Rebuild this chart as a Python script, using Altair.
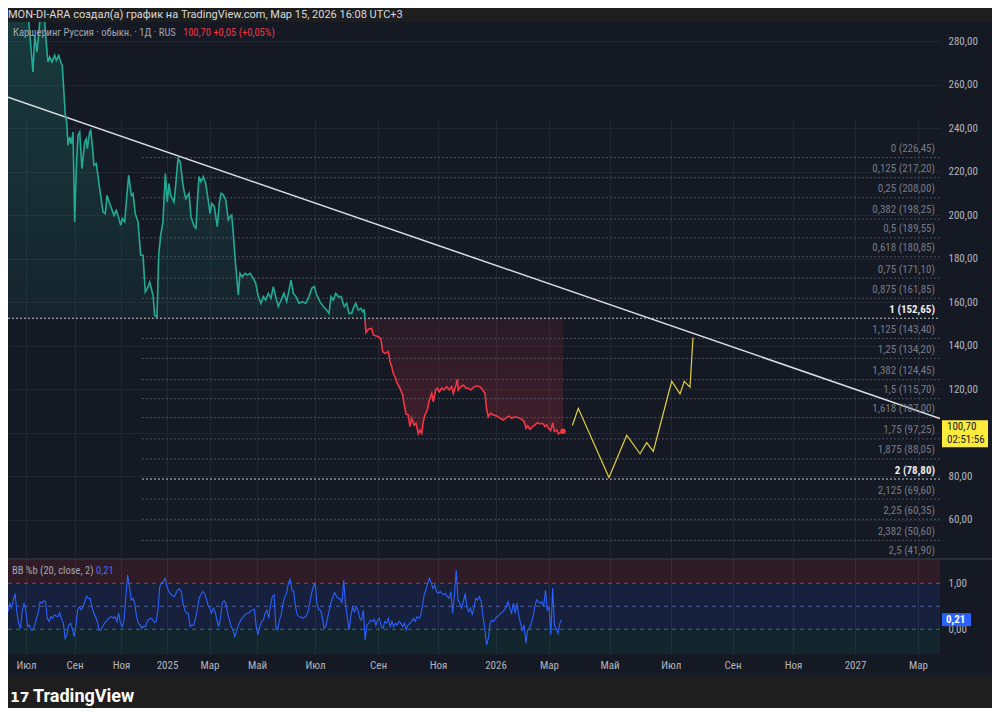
import altair as alt
import pandas as pd

# ---------------- data (x = bar position on the time axis) ----------------
price_t = [
    0, 8, 16, 20.7, 25.0, 26.7, 29.0, 31.7, 33.5, 36.7,
    39.3, 40, 41.7, 44, 46.7, 48.3, 50.7, 53.3, 54.3, 57.3,
    58.7, 60, 61.7, 63.3, 65, 66.7, 68.3, 70, 71.7, 74,
    76.7, 78.3, 79.3, 81.7, 82.7, 84.3, 86, 88.3, 91.7, 95,
    97.3, 99, 101.7, 106, 108.3, 111, 112.7, 114.3, 116.7, 118.3,
    120.7, 123.3, 125, 127.3, 130, 132.7, 135, 137.3, 139.3, 141.7,
    143.3, 145, 146.7, 149, 150.7, 152.7, 155, 157.3, 159.3, 161,
    162.7, 166, 167.7, 170, 172.3, 175, 177.7, 181, 183, 186.3,
    188, 189.7, 191, 193, 195.3, 197.7, 199.7, 202, 203.7, 206.3,
    209.3, 211.3, 213, 215.3, 217.7, 220.3, 222, 223.7, 225.3, 227,
    228.7, 230.3, 232, 234.3, 237, 239.3, 242, 245.3, 247.7, 250.3,
    253, 255.3, 257.7, 260.3, 263, 265.3, 267.7, 270.3, 273, 276,
    278.7, 281, 283, 285.3, 288, 291, 294.3, 297.7, 301, 303.7,
    306.3, 308.7, 312, 315.3, 318.7, 321, 323, 325.3, 327.7, 330.3,
    333, 336.3, 338.7, 341, 343.7, 345.3, 347.7, 350.3, 353, 354.7,
    356.3, 357,
    358, 360.3, 363.7, 365.3, 370.3, 372.7, 374.7, 377, 380.3, 382,
    383.7, 385.3, 387, 389.3, 392, 394.7, 396, 398, 400.3, 402,
    403.7, 406, 408, 410.3, 412, 413.7, 415.3, 417, 419.3, 421.3,
    423.7, 425.3, 427.7, 429.3, 431.3, 433.7, 436, 438.7, 441.3, 443.7,
    445.3, 448, 449.3, 450.3, 452.7, 455.3, 458, 460.3, 462.7, 465.3,
    468.7, 472, 474.7, 477, 478.7, 480.3, 482.7, 485.3, 488.7, 492,
    495.3, 498.7, 501.3, 503.7, 507, 510.3, 513.7, 516, 518, 519.7,
    522, 524.7, 527, 529.3, 532, 534.7, 537, 538.7, 540.3, 542.7,
    544.7, 546.3, 548.7, 550.3, 552.7, 555,
]
price_v = [
    302, 298, 300, 289, 265.8, 282.6, 274.9, 288.7, 296, 288.7,
    273.4, 270.4, 272.7, 270.4, 273.4, 271.1, 273.4, 269.6, 268.8, 245.9,
    242.8, 232.1, 235.9, 232.8, 238.2, 196.9, 221.4, 236.7, 238.2, 221.4,
    233.6, 235.1, 230.6, 238.2, 239.0, 232.1, 222.9, 223.7, 212.2, 201.5,
    200.7, 209.1, 205.3, 199.9, 202.2, 198.4, 195.3, 198.4, 196.9, 206.1,
    218.3, 209.1, 209.9, 200.7, 196.9, 181.6, 181.6, 164.7, 166.3, 169.3,
    166.3, 163.2, 154.0, 153.2, 181.6, 190.7, 196.9, 219.1, 206.1, 214.5,
    209.1, 206.1, 213.7, 226.0, 224.4, 213.7, 207.6, 210.0, 199.3, 194.7,
    194.0, 208.5, 217.7, 215.4, 217.7, 214.6, 208.5, 200.8, 205.4, 203.9,
    194.7, 205.4, 210.0, 209.3, 207.0, 197.8, 199.3, 200.1, 191.6, 180.9,
    171.7, 163.3, 173.3, 171.7, 173.3, 172.5, 173.3, 171.0, 168.7, 162.6,
    159.5, 162.6, 161.0, 164.1, 161.8, 167.2, 162.6, 158.0, 161.0, 164.1,
    160.3, 165.6, 170.2, 164.1, 162.6, 159.5, 160.3, 159.5, 162.6, 166.4,
    167.2, 163.3, 160.3, 158.0, 156.4, 154.9, 162.6, 161.0, 164.1, 162.6,
    162.6, 158.0, 159.5, 154.9, 154.9, 157.2, 159.5, 156.4, 157.2, 155.7,
    156.4, 151.8,
    146.0, 147.6, 148.0, 145.0, 144.2, 143.4, 137.3, 136.5, 137.3, 132.7,
    130.4, 127.3, 125.8, 122.7, 120.4, 117.4, 113.6, 108.7, 108.2, 102.9,
    106.7, 103.6, 104.4, 99.5, 101.3, 99.8, 105.2, 108.2, 110.5, 115.1,
    118.2, 114.3, 119.7, 120.5, 118.9, 120.5, 119.7, 121.2, 119.7, 121.2,
    118.2, 122.0, 124.6, 119.7, 121.2, 122.0, 120.5, 120.5, 119.7, 120.9,
    121.5, 121.2, 119.7, 118.2, 110.5, 107.4, 109.0, 108.2, 107.7, 106.7,
    105.9, 107.1, 107.7, 106.7, 107.4, 107.0, 106.2, 105.2, 102.1, 103.2,
    101.6, 102.9, 103.6, 104.7, 104.1, 104.4, 102.9, 103.6, 102.1, 101.0,
    104.7, 100.6, 101.3, 99.5, 100.1, 100.7,
]
if len(price_t) != len(price_v):
    raise SystemExit(f"price lengths differ {len(price_t)} {len(price_v)}")

# BB %b (20, close, 2), one value per bar
bb_vals = [
    0.38, 0.565, 0.46, 0.64, 0.78, 0.35, 0.13, 0.02, 0.42, 0.565,
    0.42, 0.06, 0.09, -0.015, -0.015, 0.09, 0.24, 0.38, 0.60, 0.565,
    0.62, 0.60, 0.24, 0.17, 0.275, 0.24, 0.31, 0.29, 0.275, 0.36,
    0.22, 0.13, -0.20, -0.12, 0.09, 0.13, 0.02, -0.16, 0.06, 0.42,
    0.49, 0.42, 0.49, 0.60, 0.72, 0.67, 0.67, 0.49, 0.36, 0.275,
    0.17, -0.015, -0.015, 0.06, 0.13, 0.17, 0.22, 0.26, 0.275, 0.24,
    0.275, 0.17, 0.35, 0.13, 0.06, 0.20, 0.71, 1.18, 0.93, 0.64,
    0.67, 0.565, 0.275, 0.13, 0.09, 0.02, 0.07, 0.06, 0.17, 0.22,
    0.24, 0.22, 0.15, 0.17, 0.42, 0.93, 1.0, 1.04, 1.11, 0.93,
    0.82, 0.77, 0.73, 0.71, 0.78, 0.85, 0.88, 0.82, 0.565, 0.42,
    0.35, 0.35, 0.06, 0.09, 0.09, 0.24, 0.42, 0.67, 0.75, 0.82,
    0.78, 0.67, 0.53, 0.46, 0.35, 0.46, 0.38, 0.20, 0.06, 0.24,
    0.58, 0.62, 0.565, 0.35, 0.20, 0.06, -0.015, -0.16, -0.05, 0.09,
    0.17, 0.24, 0.275, 0.33, 0.35, 0.36, 0.41, 0.42, 0.435, 0.06,
    -0.12, 0.06, 0.17, 0.20, 0.35, 0.42, 0.24, 0.53, 0.71, 0.75,
    0.06, -0.015, 0.20, 0.31, 0.565, 0.71, 0.78, 1.0, 1.09, 0.85,
    0.82, 0.49, 0.31, 0.275, 0.26, 0.24, 0.26, 0.29, 0.38, 0.565,
    0.78, 0.93, 1.0, 0.565, 0.435, 0.41, 0.275, 0.02, 0.06, 0.26,
    0.42, 0.60, 0.71, 0.80, 0.71, 0.67, 0.67, 0.565, 1.07, 0.565,
    0.275, -0.015, 0.275, 0.49, 0.38, 0.49, 0.42, 0.24, 0.20, 0.42,
    -0.23, 0.09, 0.13, 0.20, 0.17, 0.22, 0.09, 0.20, 0.24, 0.06,
    0.02, 0.17, 0.13, 0.24, 0.06, 0.17, 0.06, 0.13, 0.09, 0.17,
    0.13, 0.06, 0.13, -0.015, 0.09, 0.13, 0.17, 0.24, 0.17, 0.275,
    0.24, 0.275, 0.49, 0.75, 0.85, 1.0, 1.11, 1.0, 0.89, 0.96,
    0.82, 0.78, 0.82, 0.78, 0.75, 0.78, 0.71, 0.67, 0.82, 0.35,
    0.75, 1.29, 0.64, 0.565, 0.46, 0.60, 0.78, 0.49, 0.38, 0.46,
    0.31, 0.49, 0.67, 0.64, 0.71, 0.60, 0.275, 0.02, -0.34, -0.20,
    0.13, 0.20, 0.17, 0.24, 0.275, 0.31, 0.35, 0.38, 0.42, 0.49,
    0.60, 0.46, 0.35, 0.565, 0.35, 0.565, 0.31, 0.13, -0.015, 0.09,
    -0.30, -0.015, 0.02, 0.13, 0.275, 0.49, 0.64, 0.60, 0.565, 0.60,
    0.49, 0.85, 0.42, 0.49, -0.12, 0.89, 0.09, 0.02, -0.09, 0.13,
    0.21,
]
BB_STEP = 5 / 2.8  # bar spacing on the time axis

proj_t = [564.3, 570.3, 601, 618.7, 632, 638.7, 645.3, 663.7, 672, 676.3, 682, 685]
proj_v = [103.4, 111.3, 79.5, 98.9, 90.4, 95.5, 91.5, 123.7, 117.9, 123.7, 121, 143.8]

trend_t = [0, 932]
trend_v = [254.2, 106.6]

fib_levels = [0, 0.125, 0.25, 0.382, 0.5, 0.618, 0.75, 0.875, 1, 1.125, 1.25,
              1.382, 1.5, 1.618, 1.75, 1.875, 2, 2.125, 2.25, 2.382, 2.5]
fib_prices = [226.45, 217.20, 208.00, 198.25, 189.55, 180.85, 171.10, 161.85, 152.65,
              143.40, 134.20, 124.45, 115.70, 107.00, 97.25, 88.05, 78.80, 69.60,
              60.35, 50.60, 41.90]
FIB_T0, FIB_T1 = 134, 932
BASE = 152.65

month_t = [18, 66.5, 113, 159, 201.5, 249, 307, 370, 430, 487.5, 541, 601.5,
           662.7, 724.5, 785, 847, 910]
month_lbl = ["Июл", "Сен", "Ноя", "2025", "Мар", "Май", "Июл", "Сен", "Ноя", "2026",
             "Мар", "Май", "Июл", "Сен", "Ноя", "2027", "Мар"]
price_ticks = [60, 80, 100, 120, 140, 160, 180, 200, 220, 240, 260, 280]
bb_ticks = [0, 1]
LAST_PRICE = 100.70
LAST_BB = 0.21

# ---------------- style ----------------
FONT = "Roboto"
NARROW = "Liberation Sans Narrow, Roboto Condensed, Arial Narrow, Roboto"
BG = "#151924"
OUTER = "#1e1e1e"
GRID = "#222631"
TXT = "#b2b5be"
GREEN = "#22ab94"
RED = "#f23645"
W, H = 932, 632

# ---------------- frames ----------------
pdf = pd.DataFrame({"t": price_t, "v": price_v})
pdf["up"] = pdf["v"].clip(lower=BASE)
pdf["dn"] = pdf["v"].clip(upper=BASE)
pdf["base"] = BASE
last_up = max(i for i, v in enumerate(price_v) if v >= BASE)
green_df = pdf.iloc[: last_up + 2]
red_df = pdf.iloc[last_up + 1:]
end_df = pdf.tail(1)

fmt = lambda x: x.replace(".", ",")
fib_df = pd.DataFrame({
    "level": fib_levels,
    "price": fib_prices,
    "label": [fmt(f"{l:g}") + " (" + fmt(f"{p:.2f}") + ")" for l, p in zip(fib_levels, fib_prices)],
    "key": [l in (1, 2) for l in fib_levels],
})
fib_norm = fib_df[~fib_df["key"]]
fib_key = fib_df[fib_df["key"]]
fib_key_lines = fib_key[fib_key["price"] != BASE]   # level 1 is drawn by the baseline

bb_df = pd.DataFrame({"t": [i * BB_STEP for i in range(len(bb_vals))], "b": bb_vals})
proj_df = pd.DataFrame({"t": proj_t, "v": proj_v})
trend_df = pd.DataFrame({"t": trend_t, "v": trend_v})
ONE = pd.DataFrame({"k": [0]})

# ---------------- scales / axes ----------------
x_scale = alt.Scale(domain=[0, W], nice=False, zero=False)
p_scale = alt.Scale(domain=[42.52, 288.73], range=[536, 0], nice=False, zero=False)
b_scale = alt.Scale(domain=[-0.537, 1.507], range=[632, 538], nice=False, zero=False)

x_expr = ("[" + ",".join(f"'{l}'" for l in month_lbl) + "][indexof(["
          + ",".join(str(t) for t in month_t) + "], datum.value)]")
x_axis = alt.Axis(values=month_t, labelExpr=x_expr, grid=True, gridColor=GRID,
                  domain=False, ticks=False, labelPadding=5, labelOverlap=False,
                  labelFlush=False, title=None, labelColor=TXT, labelFontSize=11,
                  labelFont=NARROW)
num_expr = "replace(format(datum.value, '.2f'), '.', ',')"
# the 100,00 label sits under the last-price tag, so it is left blank
p_expr = f"datum.value == {round(LAST_PRICE / 10) * 10} ? '' : " + num_expr
p_axis = alt.Axis(orient="right", values=price_ticks, labelExpr=p_expr, grid=True,
                  gridColor=GRID, domain=False, ticks=False, labelPadding=8,
                  labelAlign="left", labelBaseline="middle", title=None, labelColor=TXT,
                  labelFontSize=11, labelFont=NARROW, labelOverlap=False)
b_axis = alt.Axis(orient="right", values=bb_ticks, labelExpr=num_expr, grid=False,
                  domain=False, ticks=False, labelPadding=8, labelAlign="left",
                  labelBaseline="middle", title=None, labelColor=TXT, labelFontSize=11,
                  labelFont=NARROW, labelOverlap=False)

X = lambda f: alt.X(f, type="quantitative", scale=x_scale, axis=x_axis)
YP = lambda f: alt.Y(f, type="quantitative", scale=p_scale, axis=p_axis)
YB = lambda f: alt.Y(f, type="quantitative", scale=b_scale, axis=b_axis)
XD = lambda d: alt.XDatum(d, scale=x_scale, axis=x_axis)
YPD = lambda d: alt.YDatum(d, scale=p_scale, axis=p_axis)
YBD = lambda d: alt.YDatum(d, scale=b_scale, axis=b_axis)

green_grad = alt.Gradient(gradient="linear", x1=0, x2=0, y1=0, y2=1, stops=[
    alt.GradientStop(color="rgba(34,171,148,0.24)", offset=0),
    alt.GradientStop(color="rgba(34,171,148,0.08)", offset=1)])
red_grad = alt.Gradient(gradient="linear", x1=0, x2=0, y1=0, y2=1, stops=[
    alt.GradientStop(color="rgba(242,54,69,0.09)", offset=0),
    alt.GradientStop(color="rgba(242,54,69,0.20)", offset=1)])

# ---------------- price pane ----------------
area_up = alt.Chart(pdf).mark_area(clip=True, color=green_grad).encode(
    x=X("t"), y=YP("up"), y2="base:Q")
area_dn = alt.Chart(pdf).mark_area(clip=True, color=red_grad).encode(
    x=X("t"), y=YP("dn"), y2="base:Q")

fib_rules = alt.Chart(fib_norm).mark_rule(color="#4e525d", strokeDash=[2, 2], strokeWidth=1).encode(
    x=XD(FIB_T0), x2=alt.X2Datum(FIB_T1), y=YP("price"))
fib_key_rules = alt.Chart(fib_key_lines).mark_rule(color="#c4c7ce", strokeDash=[2, 2],
                                                   strokeWidth=1).encode(
    x=XD(FIB_T0), x2=alt.X2Datum(FIB_T1), y=YP("price"))
base_rule = alt.Chart(ONE).mark_rule(color="#c4c7ce", strokeDash=[2, 2], strokeWidth=1).encode(
    x=XD(0), x2=alt.X2Datum(W), y=YPD(BASE))

trend = alt.Chart(trend_df).mark_line(color="#dcdee3", strokeWidth=1.5, clip=True).encode(
    x=X("t"), y=YP("v"))
proj = alt.Chart(proj_df).mark_line(color="#e2d23c", strokeWidth=1.2).encode(
    x=X("t"), y=YP("v"))
line_g = alt.Chart(green_df).mark_line(color=GREEN, strokeWidth=1.6, clip=True).encode(
    x=X("t"), y=YP("v"))
line_r = alt.Chart(red_df).mark_line(color=RED, strokeWidth=1.6, clip=True).encode(
    x=X("t"), y=YP("v"))
end_dot = alt.Chart(end_df).mark_circle(color=RED, size=30, opacity=1).encode(
    x=X("t"), y=YP("v"))

fib_lbl = alt.Chart(fib_norm).mark_text(align="right", baseline="middle", dx=-5, dy=-8.5,
                                        fontSize=11, font=NARROW, color="#787b86").encode(
    x=XD(FIB_T1), y=YP("price"), text="label:N")
fib_key_lbl = alt.Chart(fib_key).mark_text(align="right", baseline="middle", dx=-5, dy=-8.5,
                                           fontSize=11, font=NARROW, fontWeight="bold",
                                           color="#eceef2").encode(
    x=XD(FIB_T1), y=YP("price"), text="label:N")

price_box = alt.Chart(ONE).mark_rect(color="#ffeb3b", yOffset=-11, y2Offset=16).encode(
    x=alt.value(934), x2=alt.value(980), y=YPD(LAST_PRICE), y2=alt.Y2Datum(LAST_PRICE))
price_box_t1 = alt.Chart(ONE).mark_text(text=fmt(f"{LAST_PRICE:.2f}"), align="left",
                                        baseline="middle", dy=-4.5, fontSize=11, font=NARROW,
                                        color="#131722").encode(
    x=alt.value(939), y=YPD(LAST_PRICE))
price_box_t2 = alt.Chart(ONE).mark_text(text="02:51:56", align="left", baseline="middle",
                                        dy=9, fontSize=11, font=NARROW,
                                        color="#131722").encode(
    x=alt.value(939), y=YPD(LAST_PRICE))

price_layer = alt.layer(area_up, area_dn, fib_rules, fib_key_rules, base_rule, trend, proj,
                        line_g, line_r, end_dot, fib_lbl, fib_key_lbl,
                        price_box, price_box_t1, price_box_t2)

# ---------------- BB %b pane ----------------
band_hi = alt.Chart(ONE).mark_rect(color="rgba(242,54,69,0.12)").encode(
    x=alt.value(0), x2=alt.value(W), y=YBD(1), y2=alt.Y2Datum(1.507))
band_mid = alt.Chart(ONE).mark_rect(color="rgba(41,98,255,0.12)").encode(
    x=alt.value(0), x2=alt.value(W), y=YBD(0), y2=alt.Y2Datum(1))
band_lo = alt.Chart(ONE).mark_rect(color="rgba(8,153,129,0.10)").encode(
    x=alt.value(0), x2=alt.value(W), y=YBD(-0.537), y2=alt.Y2Datum(0))
r_hi = alt.Chart(ONE).mark_rule(color="#b0394a", strokeDash=[4, 4], strokeWidth=1).encode(
    x=alt.value(0), x2=alt.value(W), y=YBD(1))
r_mid = alt.Chart(ONE).mark_rule(color="#4d5c9c", strokeDash=[4, 4], strokeWidth=1).encode(
    x=alt.value(0), x2=alt.value(W), y=YBD(0.5))
r_lo = alt.Chart(ONE).mark_rule(color="#16806f", strokeDash=[4, 4], strokeWidth=1).encode(
    x=alt.value(0), x2=alt.value(W), y=YBD(0))
bb_line = alt.Chart(bb_df).mark_line(color="#2962ff", strokeWidth=1.1).encode(
    x=X("t"), y=YB("b"))
bb_box = alt.Chart(ONE).mark_rect(color="#2962ff", yOffset=-6.5, y2Offset=6.5).encode(
    x=alt.value(934), x2=alt.value(963), y=YBD(LAST_BB), y2=alt.Y2Datum(LAST_BB))
bb_box_t = alt.Chart(ONE).mark_text(text=fmt(f"{LAST_BB:.2f}"), align="left", baseline="middle",
                                    fontSize=11, font=NARROW, fontWeight="bold",
                                    color="#ffffff").encode(
    x=alt.value(938), y=YBD(LAST_BB))

bb_layer = alt.layer(band_hi, band_mid, band_lo, r_hi, r_mid, r_lo, bb_line, bb_box, bb_box_t)

# ---------------- frame decorations / texts ----------------
hdr_rect = alt.Chart(ONE).mark_rect(color=OUTER).encode(
    x=alt.value(0), x2=alt.value(984), y=alt.value(-14), y2=alt.value(0))
hdr_text = alt.Chart(ONE).mark_text(
    text="MON-DI-ARA создал(а) график на TradingView.com, Мар 15, 2026 16:08 UTC+3",
    align="left", baseline="alphabetic", fontSize=11, color="#d9dadf").encode(
    x=alt.value(0), y=alt.value(-4.5))
leg1 = alt.Chart(ONE).mark_text(text="Каршеринг Руссия · обыкн. · 1Д · RUS", align="left",
                                baseline="alphabetic", fontSize=10.5, font=NARROW,
                                color="#a3a6af").encode(
    x=alt.value(5), y=alt.value(13.5))
leg2 = alt.Chart(ONE).mark_text(text="100,70  +0,05 (+0,05%)", align="left",
                                baseline="alphabetic", fontSize=10.5, font=NARROW,
                                color=RED).encode(
    x=alt.value(175), y=alt.value(13.5))
bb_leg1 = alt.Chart(ONE).mark_text(text="BB %b (20, close, 2)", align="left",
                                   baseline="alphabetic", fontSize=10.5, font=NARROW,
                                   color="#a3a6af").encode(
    x=alt.value(4), y=alt.value(552))
bb_leg2 = alt.Chart(ONE).mark_text(text="0,21", align="left", baseline="alphabetic",
                                   fontSize=10.5, font=NARROW, color="#3d6bff").encode(
    x=alt.value(88), y=alt.value(552))
sep = alt.Chart(ONE).mark_rule(color="#2a2e39", strokeWidth=2).encode(
    x=alt.value(0), x2=alt.value(984), y=alt.value(537))
ftr_rect = alt.Chart(ONE).mark_rect(color=OUTER).encode(
    x=alt.value(0), x2=alt.value(984), y=alt.value(653), y2=alt.value(720))
ftr_logo = alt.Chart(ONE).mark_text(text="17", align="left", baseline="alphabetic",
                                    fontSize=14, fontWeight="bold", font="DejaVu Sans",
                                    color="#ffffff").encode(x=alt.value(2), y=alt.value(680))
ftr_text = alt.Chart(ONE).mark_text(text="TradingView", align="left", baseline="alphabetic",
                                    fontSize=18, fontWeight="bold", color="#ffffff").encode(
    x=alt.value(25), y=alt.value(680))

deco = alt.layer(sep, hdr_rect, hdr_text, leg1, leg2, bb_leg1, bb_leg2, ftr_rect, ftr_logo, ftr_text)

chart = alt.layer(price_layer, bb_layer, deco).resolve_scale(y="independent").properties(
    width=W, height=H,
    autosize=alt.AutoSizeParams(type="none"),
    padding={"left": 0, "top": 14, "right": 52, "bottom": 54},
).configure(background=BG, font=FONT).configure_view(strokeWidth=0)

chart.save("out.html", embed_options={"renderer": "svg", "actions": False})
